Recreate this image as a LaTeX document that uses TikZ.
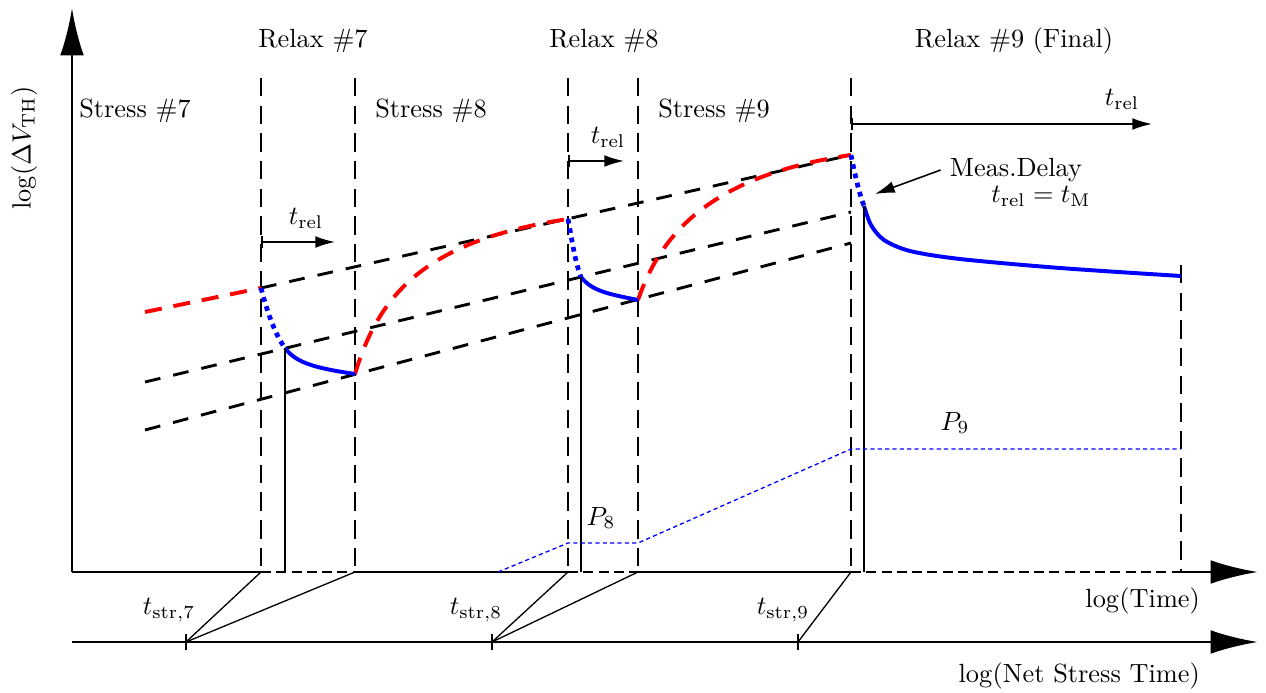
\documentclass[tikz,border=0pt]{standalone}
\usepackage{amsmath}
\usepackage{tikz}
\usetikzlibrary{arrows.meta}
\tikzset{
  axisline/.style={line width=1.1pt,draw=black},
  axisarrow/.style={axisline,-{Latex[length=18pt,width=9pt]}},
  relaxaxis/.style={line width=1.1pt,dash pattern=on 3.8pt off 2pt},
  phaseline/.style={line width=0.6pt,dash pattern=on 7pt off 3.5pt},
  trendline/.style={line width=1.1pt,dash pattern=on 6pt off 5pt},
  stresscurve/.style={red,line width=1.5pt,dash pattern=on 6.5pt off 4.5pt},
  delaycurve/.style={blue,line width=1.8pt,dash pattern=on 1.8pt off 1.8pt},
  relaxcurve/.style={blue,line width=1.5pt},
  dropline/.style={line width=0.6pt},
  mapline/.style={line width=0.5pt},
  permline/.style={blue,line width=0.5pt,dash pattern=on 1.6pt off 1.2pt},
  trelarrow/.style={line width=0.6pt,{Bar[width=4.6pt]}-{Latex[length=7.5pt,width=4.5pt]}},
  measarrow/.style={line width=0.6pt,-{Latex[length=7.5pt,width=4.5pt]}},
  ticktext/.style={inner sep=1pt}
}

\begin{document}
\begin{tikzpicture}[x=0.38pt,y=-0.38pt]
  \useasboundingbox (0,0) rectangle (1266,693);
  % axes and phase boundaries
  \coordinate (o) at (72,572);
  \coordinate (ytip) at (72,8);
  \coordinate (xtip) at (1258,572);
  \coordinate (n0) at (72,642);
  \coordinate (ntip) at (1258,642);
  \coordinate (a7) at (261,572);
  \coordinate (b7) at (355,572);
  \coordinate (a8) at (568,572);
  \coordinate (b8) at (638,572);
  \coordinate (a9) at (851,572);
  \coordinate (b9) at (1181,572);
  \coordinate (a7t) at (261,78);
  \coordinate (b7t) at (355,78);
  \coordinate (a8t) at (568,78);
  \coordinate (b8t) at (638,78);
  \coordinate (a9t) at (851,78);
  \coordinate (b9t) at (1181,265);
  \coordinate (ts7) at (186,642);
  \coordinate (ts8) at (492,642);
  \coordinate (ts9) at (798,642);
  % curve points
  \coordinate (r0) at (145,312);
  \coordinate (p7) at (261,288);
  \coordinate (q7) at (285,348);
  \coordinate (e7) at (355,374);
  \coordinate (p8) at (568,219);
  \coordinate (q8) at (581,277);
  \coordinate (e8) at (638,300);
  \coordinate (p9) at (851,155);
  \coordinate (q9) at (864,206);
  \coordinate (e9) at (1181,276);
  \coordinate (l2s) at (145,382);
  \coordinate (l2e) at (851,212);
  \coordinate (l3s) at (145,430);
  \coordinate (l3e) at (851,243);
  \coordinate (m0) at (498,572);
  \coordinate (m1) at (568,543);
  \coordinate (m2) at (638,543);
  \coordinate (m3) at (851,449);
  \coordinate (m4) at (1181,449);

  \draw[axisarrow] (o) -- (ytip);
  \draw[axisline] (o) -- (a7);
  \draw[relaxaxis] (a7) -- (b7);
  \draw[axisline] (b7) -- (a8);
  \draw[relaxaxis] (a8) -- (b8);
  \draw[axisline] (b8) -- (a9);
  \draw[relaxaxis] (a9) -- (b9);
  \draw[axisarrow] (b9) -- (xtip);
  \draw[axisarrow] (n0) -- (ntip);

  \draw[phaseline] (a7t) -- (a7);
  \draw[phaseline] (b7t) -- (b7);
  \draw[phaseline] (a8t) -- (a8);
  \draw[phaseline] (b8t) -- (b8);
  \draw[phaseline] (a9t) -- (a9);
  \draw[phaseline] (b9t) -- (b9);

  % net stress time mapping
  \draw[line width=0.6pt] ([yshift=-3.2pt]ts7) -- ([yshift=3.2pt]ts7);
  \draw[line width=0.6pt] ([yshift=-3.2pt]ts8) -- ([yshift=3.2pt]ts8);
  \draw[line width=0.6pt] ([yshift=-3.2pt]ts9) -- ([yshift=3.2pt]ts9);
  \draw[mapline] (ts7) -- (a7);
  \draw[mapline] (ts7) -- (b7);
  \draw[mapline] (ts8) -- (a8);
  \draw[mapline] (ts8) -- (b8);
  \draw[mapline] (ts9) -- (a9);

  % trend lines
  \draw[trendline] (p7) -- (p9);
  \draw[trendline] (l2s) -- (l2e);
  \draw[trendline] (l3s) -- (l3e);

  % stress phases
  \draw[stresscurve] (r0) -- (p7);
  \draw[stresscurve] (e7) .. controls (380,290) and (430,240) .. (p8);
  \draw[stresscurve] (e8) .. controls (662,230) and (715,175) .. (p9);

  % relax phases
  \draw[delaycurve] (p7) .. controls (268,315) and (276,336) .. (q7);
  \draw[delaycurve] (p8) .. controls (572,240) and (575,262) .. (q8);
  \draw[delaycurve] (p9) .. controls (855,175) and (859,193) .. (q9);
  \draw[relaxcurve] (q7) .. controls (296,363) and (315,368) .. (e7);
  \draw[relaxcurve] (q8) .. controls (592,291) and (608,294) .. (e8);
  \draw[relaxcurve] plot[smooth] coordinates {(864,206) (871,225) (884,240) (910,251) (960,259) (1060,268) (1181,276)};

  \draw[dropline] (q7) -- (285,572);
  \draw[dropline] (q8) -- (581,572);
  \draw[dropline] (q9) -- (864,572);

  \draw[permline] (m0) -- (m1) -- (m2) -- (m3) -- (m4);

  % relaxation time arrows
  \coordinate (rel7s) at (261,242);
  \coordinate (rel7e) at (335,242);
  \coordinate (rel8s) at (568,161);
  \coordinate (rel8e) at (624,161);
  \coordinate (rel9s) at (851,124);
  \coordinate (rel9e) at (1152,124);
  \draw[trelarrow] (rel7s) -- (rel7e);
  \draw[trelarrow] (rel8s) -- (rel8e);
  \draw[trelarrow] (rel9s) -- (rel9e);

  % labels
  \node[rotate=90] (ylab) at (24,148) {$\log(\Delta V_{\mathrm{TH}})$};
  \node (stress7) at (135,111) {Stress \#7};
  \node (relax7) at (313,41) {Relax \#7};
  \node (stress8) at (431,111) {Stress \#8};
  \node (relax8) at (604,41) {Relax \#8};
  \node (stress9) at (714,111) {Stress \#9};
  \node (relax9) at (1014,41) {Relax \#9 (Final)};
  \node (trel7) at (306,218) {$t_{\mathrm{rel}}$};
  \node (trel8) at (608,137) {$t_{\mathrm{rel}}$};
  \node (trel9) at (1122,99) {$t_{\mathrm{rel}}$};
  \node (meas) at (1016,170) {Meas.Delay};
  \node (tm) at (1041,196) {$t_{\mathrm{rel}}=t_{\mathrm{M}}$};
  \coordinate (mtip) at (875,194);
  \draw[measarrow] (meas.west) -- (mtip);
  \node (perm8) at (601,518) {$P_8$};
  \node (perm9) at (955,423) {$P_9$};
  \node (tstr7) at (169,610) {$t_{\mathrm{str},7}$};
  \node (tstr8) at (476,610) {$t_{\mathrm{str},8}$};
  \node (tstr9) at (783,610) {$t_{\mathrm{str},9}$};
  \node[anchor=east,ticktext] (timelab) at (1203,601) {$\log(\text{Time})$};
  \node[anchor=east,ticktext] (netlab) at (1203,676) {$\log(\text{Net Stress Time})$};
\end{tikzpicture}
\end{document}
